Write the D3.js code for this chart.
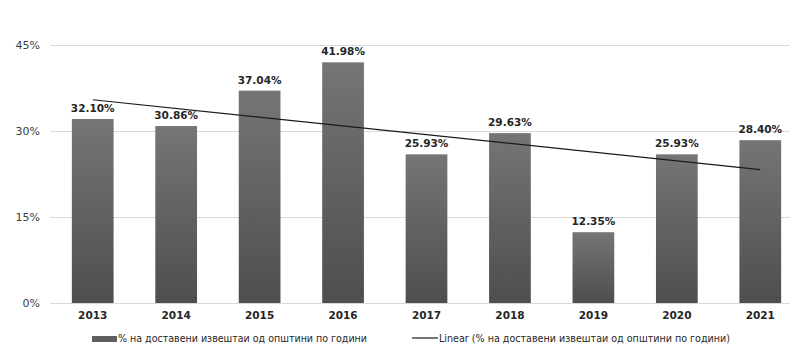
<!DOCTYPE html>
<html><head><meta charset="utf-8">
<script src="https://cdn.jsdelivr.net/npm/d3@7"></script>
<style>body{margin:0;background:#fff}svg{display:block}</style>
</head><body><svg id="c" width="800" height="356"></svg>
<script>
const years = ["2013","2014","2015","2016","2017","2018","2019","2020","2021"];
const values = [32.10, 30.86, 37.04, 41.98, 25.93, 29.63, 12.35, 25.93, 28.40];
const yTicks = [0, 15, 30, 45];
const seriesName = "% на доставени извештаи од општини по години";
const trendName = "Linear (% на доставени извештаи од општини по години)";

const svg = d3.select("#c");
const font = "'DejaVu Sans', Verdana, sans-serif";
const x = d3.scaleBand().domain(years).range([51, 802]).paddingInner(0.5).paddingOuter(0.25);
const y = d3.scaleLinear().domain([0, 45]).range([303, 45]);

const defs = svg.append("defs");
const g = defs.append("linearGradient").attr("id","bg").attr("x1",0).attr("y1",0).attr("x2",0).attr("y2",1);
g.append("stop").attr("offset","0%").attr("stop-color","#757575");
g.append("stop").attr("offset","100%").attr("stop-color","#4e4e4e");

// grid
svg.append("g").selectAll("line").data(yTicks).join("line")
  .attr("x1",50).attr("x2",790).attr("y1",d=>y(d)+0.5).attr("y2",d=>y(d)+0.5)
  .attr("stroke","#d9d9d9").attr("stroke-width",1);

// y axis labels
const yAxis = d3.axisLeft(y).tickValues(yTicks).tickFormat(d=>d+"%").tickSize(0).tickPadding(0);
const ya = svg.append("g").attr("transform","translate(40,0)").call(yAxis);
ya.select(".domain").remove();
ya.selectAll("text").attr("font-family",font).attr("font-size",11).attr("fill","#404040");

// bars
svg.append("g").selectAll("rect").data(values).join("rect")
  .attr("x",(d,i)=>x(years[i])).attr("width",x.bandwidth())
  .attr("y",d=>y(d)).attr("height",d=>y(0)-y(d)).attr("fill","url(#bg)");

// labels
svg.append("g").selectAll("text").data(values).join("text")
  .attr("x",(d,i)=>x(years[i])+x.bandwidth()/2).attr("y",d=>y(d)-7)
  .attr("text-anchor","middle").attr("font-family",font).attr("font-weight","bold")
  .attr("font-size",10.5).attr("fill","#262626").text(d=>d.toFixed(2)+"%");

// trendline (least squares)
const n = values.length, xs = d3.range(1,n+1);
const mx = d3.mean(xs), my = d3.mean(values);
const slope = d3.sum(xs.map((xi,i)=>(xi-mx)*(values[i]-my)))/d3.sum(xs.map(xi=>(xi-mx)**2));
const icpt = my - slope*mx;
const cx = i => x(years[i]) + x.bandwidth()/2;
svg.append("line").attr("x1",cx(0)).attr("y1",y(icpt+slope*1))
  .attr("x2",cx(n-1)).attr("y2",y(icpt+slope*n)).attr("stroke","#1a1a1a").attr("stroke-width",1.2);

// x axis labels
const xAxis = d3.axisBottom(x).tickSize(0).tickPadding(0);
const xa = svg.append("g").attr("transform","translate(0,312)").call(xAxis);
xa.select(".domain").remove();
xa.selectAll("text").attr("font-family",font).attr("font-weight","bold").attr("font-size",10.5).attr("fill","#262626");

// legend
const lf = "'DejaVu Sans Condensed','DejaVu Sans',sans-serif";
const lg = svg.append("g").attr("font-family",lf).attr("font-size",10.2).attr("fill","#262626");
lg.append("rect").attr("x",92).attr("y",336).attr("width",25).attr("height",6).attr("fill","#5e5e5e");
lg.append("text").attr("x",118).attr("y",342).attr("textLength",249).attr("lengthAdjust","spacingAndGlyphs").text(seriesName);
lg.append("line").attr("x1",412).attr("x2",438).attr("y1",338).attr("y2",338).attr("stroke","#1a1a1a").attr("stroke-width",1.2);
lg.append("text").attr("x",439).attr("y",342).attr("textLength",291).attr("lengthAdjust","spacingAndGlyphs").text(trendName);
</script></body></html>
